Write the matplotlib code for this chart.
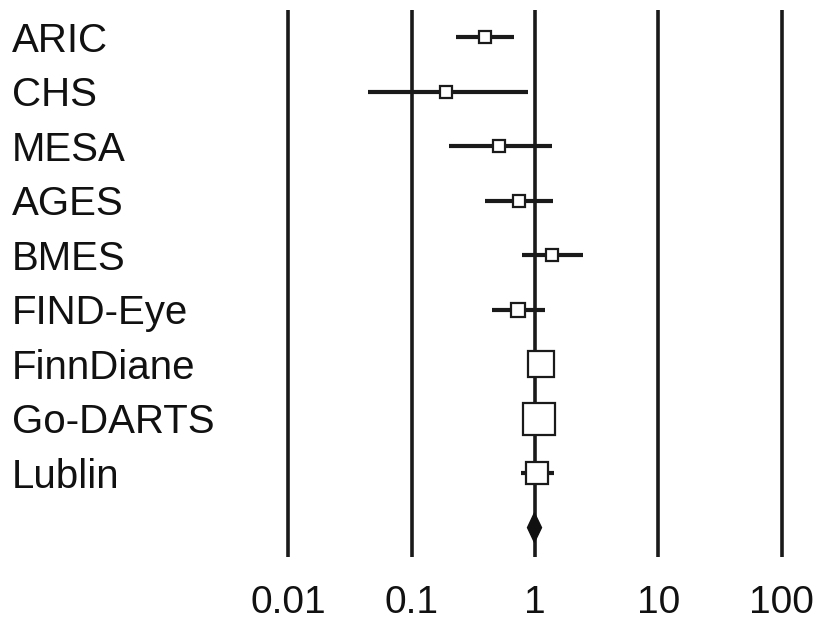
import numpy as np
import matplotlib
matplotlib.use("Agg")
import matplotlib.pyplot as plt
import matplotlib.transforms as mtransforms

# studies and estimates (odds ratio, 95% CI)
studies = ["ARIC", "CHS", "MESA", "AGES", "BMES", "FIND-Eye",
           "FinnDiane", "Go-DARTS", "Lublin"]
estimate = [0.39, 0.19, 0.51, 0.74, 1.37, 0.73, 1.12, 1.08, 1.04]
ci_low = [0.23, 0.044, 0.20, 0.39, 0.78, 0.45, 0.98, 0.95, 0.77]
ci_high = [0.68, 0.88, 1.37, 1.40, 2.45, 1.20, 1.28, 1.22, 1.42]
weights = [1.0, 1.0, 1.0, 1.0, 1.0, 1.5, 5.6, 7.9, 4.0]

# pooled estimate
pooled = 0.99
pooled_low = 0.87
pooled_high = 1.13

xticks = [0.01, 0.1, 1, 10, 100]
xticklabels = ["0.01", "0.1", "1", "10", "100"]

plt.rcParams['font.family'] = ['Liberation Sans', 'DejaVu Sans']

fig = plt.figure(figsize=(8.19, 6.21), dpi=100)
ax = fig.add_axes([0.28, 0.103, 0.70, 0.881])
ax.set_xscale("log")
ax.set_xlim(10 ** -2.478, 10 ** 2.17)
ax.set_ylim(len(studies) + 0.54, -0.5)

# vertical reference lines
for t in xticks:
    ax.axvline(t, color="#1a1a1a", lw=2.6, zorder=1)

ypos = np.arange(len(studies))
for i, name in enumerate(studies):
    ax.plot([ci_low[i], ci_high[i]], [ypos[i], ypos[i]], color="#1a1a1a",
            lw=3.0, solid_capstyle="butt", zorder=2)
    ax.plot(estimate[i], ypos[i], marker="s", ms=8.0 * np.sqrt(weights[i]),
            mfc="white", mec="#1a1a1a", mew=1.6, zorder=3)

# pooled diamond
yd = len(studies)
ax.fill([pooled_low, pooled, pooled_high, pooled],
        [yd, yd - 0.27, yd, yd + 0.27], color="#111111", zorder=3)

# study labels
trans = mtransforms.blended_transform_factory(fig.transFigure, ax.transData)
for i, name in enumerate(studies):
    ax.text(0.0147, ypos[i] + 0.07, name, transform=trans, ha="left",
            va="center", fontsize=29, color="#111111")

ax.set_xticks(xticks)
ax.set_xticklabels(xticklabels, fontsize=28, color="#111111")
ax.minorticks_off()
ax.tick_params(axis="x", length=0, pad=20)
ax.set_yticks([])
for s in ax.spines.values():
    s.set_visible(False)

fig.savefig("out.png", dpi=100)
